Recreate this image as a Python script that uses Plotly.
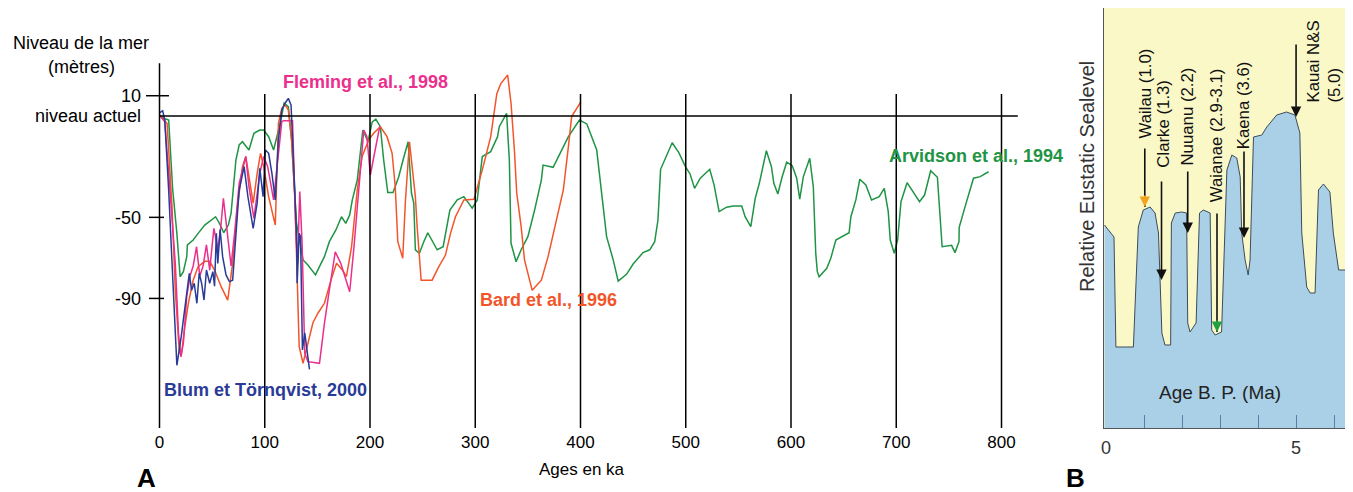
import plotly.graph_objects as go

W, H = 1353, 492
OFF = 8  # page body margin shifts the figure by this many pixels

# ---------------- panel A data (ka, metres) ----------------
blum_ka = [0, 3, 5, 8.7, 12.5, 16.5, 20.6, 24.3, 28.3, 30.5, 33, 35.5, 37.7, 40, 42.3,
           44.6, 47.7, 50.7, 52.3, 54, 55.4, 57.6, 60, 63.2, 66.4, 69.5, 72.6, 75.7, 80.4, 84,
           89, 92.8, 95.3, 98.4, 100.6, 103.7, 106.8, 110, 113, 116.2, 119.3, 122.4, 125, 127,
           130.2, 130.8, 132.7, 134, 135.8, 138, 139.5, 142.5]
blum_m = [1.6, 2.6, -2, -36.5, -79, -123, -109, -94, -77.6, -86, -82.5, -92.4, -77.6, -82.5, -90.8,
          -76, -82.5, -76.8, -84, -57.9, -72.7, -56, -69.4, -78.4, -81.7, -81, -56, -36.5, -25, -39.8,
          -55.4, -43, -25.8, -39.8, -16.8, -18.4, -28.3, -41.4, -11.8, 3, 6.3, 8.7, 5.4, -20,
          -57.9, -82.5, -57.9, -59.5, -115.4, -107, -113.8, -125]

fleming_ka = [0, 5, 8.7, 11.9, 15, 18, 20.3, 22.7, 25.9, 29, 32, 35.2, 38.3, 41.4, 44.6,
              47.7, 51.7, 55.4, 58, 60.7, 63.8, 68, 71.7, 75.7, 82, 85, 89.7, 92.8, 95.3, 99,
              102.8, 108.4, 116.2, 117.8, 126.4, 129.6, 131.1, 133.3, 135.5, 138, 141, 152,
              156.7, 161.4, 167, 172.2, 180.7, 184.8, 189.4, 194.1, 197.1, 200.3, 209.2]
fleming_m = [0.5, -2.8, -28, -53, -72.7, -107, -118.7, -112, -89, -79, -74, -64.5, -79, -74, -63.6,
             -76, -55.4, -66, -56, -40.6, -56, -74, -56, -33.2, -20, -34.9, -50.5, -38, -28.3, -20,
             -25, -41.4, -2.8, -2.3, -2.3, -57.9, -72.7, -37.3, -62.8, -117, -121.2, -122,
             -102.3, -85.8, -67, -72.7, -86.7, -64.5, -36.5, -6.9, -10.2, -29.1, -5.3]

bard_ka = [0, 7.2, 11.9, 15, 18.7, 20.6, 23.6, 27.4, 32, 36.7, 43, 47.7, 52.3, 58.6, 64.8,
           69.5, 74.1, 78.8, 82, 85, 89, 92.8, 96, 99, 103.7, 110, 113, 116.2, 119.3, 122.4,
           125.5, 128.7, 130.8, 132.7, 136.4, 141, 145.8, 150.5, 156.7, 162.9, 168.2, 173.8,
           177.6, 182.5, 187.9, 192.5, 198.8, 203.5, 209.8, 216.2, 221, 224, 226.4, 231.1,
           233.7, 237.5, 240, 243.1, 244.8, 248.6, 259, 265.4, 271.7, 276.5, 281.2, 289.2,
           298.8, 306.7, 314.7, 320.5, 324.3, 330.8, 334, 337.2, 339.4, 343.6, 346.8, 354.1,
           362.8, 369.2, 375.7, 383.7, 388.5, 391.6, 400.3]
bard_m = [0.5, -3.6, -44.7, -86, -115.4, -118.7, -105.6, -92.4, -81, -74.3, -71.7, -71.7, -76, -84.2, -90.8,
          -72.7, -44.7, -25, -20, -30, -43, -28.3, -18.4, -25, -39.8, -53.8, -3.6, 3.8, 5.4, 3,
          -11.8, -41.4, -86, -113.8, -122, -112, -102, -97.3, -92.4, -81, -72.7, -76,
          -79.3, -64.5, -36.5, -20, -11.8, -8.5, -5.3, -10.2, -18.4, -34.9, -62, -70.2,
          -41.4, -12.7, -25, -39.8, -54.6, -81, -81, -74.3, -68.6, -57.9, -49.7, -41.4,
          -41.1, -26.6, -10.2, 11, 16, 20.2, 6.3, -16.8, -38, -54.6, -71, -86,
          -81, -69.4, -54.6, -36.5, -15.1, -0.3, 7]

arvidson_ka = [0, 4, 8.7, 12.5, 16.5, 19.6, 22.7, 25.9, 26.5, 32, 36.7, 43, 53.3, 57, 61,
               65.4, 68, 70.4, 72.6, 75.7, 78.8, 85, 89.7, 95.3, 99, 103.7, 108.4, 114.7, 118.4,
               122.4, 125.5, 130.2, 136.4, 141, 148.2, 152, 156.7, 161.4, 167.6, 172.9, 177,
               180.7, 183.2, 187.9, 193.2, 198.1, 202, 205.5, 209.8, 213, 216.9, 221.9, 227.3,
               231.4, 236.2, 239.4, 241.6, 243.1, 246.9, 251.1, 254.9, 263.8, 269.5, 275.9,
               282.9, 289.2, 297.1, 301.9, 306.7, 314.7, 321.2, 322.8, 329.8, 332.4, 334, 338.8,
               343.6, 350, 356.4, 362.8, 364.4, 374, 380.5, 388.5, 399, 406, 415.4, 420.1,
               424.8, 431.1, 435.8, 443.7, 450, 459.4, 465.8, 470.5, 473.6, 476.1, 481.4, 487.1,
               493.4, 499.7, 504.1, 508.4, 513.8, 522.8, 526.9, 531.7, 538.8, 545.2, 553.2,
               556.4, 561.8, 566, 569.9, 576.6, 581.4, 583.7, 587.5, 591.6, 595.9, 601.2, 605.4,
               608.3, 611.7, 617.8, 621.2, 623.5, 625, 626.7, 634, 637.8, 642.6, 655.2, 656.9,
               661.6, 665.4, 671.1, 676.5, 683.8, 688.6, 692.4, 694.3, 698.1, 701.3, 704.5,
               710.3, 715.7, 722.1, 726.9, 732.7, 739.1, 741.3, 743.6, 752.6, 755.8, 759.6,
               759.8, 765.4, 769.2, 773.4, 779.8, 787.7]
arvidson_m = [0.5, -1.1, -2, -36, -57.9, -79.3, -76.8, -69.4, -63.6, -61.2, -57.9, -53.8, -49.7, -53, -57.6,
              -53.8, -48, -34.9, -21.7, -14.3, -12.7, -16.8, -8.5, -6.9, -6.9, -10.2, -16.8, -3.6, 6.3,
              4.6, -11.8, -53, -71, -73.5, -78.4, -74.3, -69.4, -62, -56.2, -49.7, -53,
              -48.8, -41.4, -31.6, -6.9, -12.7, -3, -1.5, -5.3, -21.7, -37.8, -37.8, -30,
              -21.7, -12.7, -38, -43, -66, -67.7, -62, -57.6, -66, -64.5, -46.4,
              -41.4, -39.8, -45.5, -41.4, -20, -17.6, -10.2, -5.3, 1.3, -21.7, -62.8, -71.9,
              -66, -59.5, -46.4, -31.6, -24.2, -25.3, -18.4, -10.2, -2, -3.9, -16.8, -38,
              -59.5, -71, -81.5, -78.1, -73, -67.4, -66, -62, -51.3, -26.3, -20, -13.2,
              -18.1, -25, -28.6, -35.7, -30.7, -26.3, -34, -47.2, -45, -44.4, -44.4,
              -49.7, -54.6, -40.6, -33.2, -17.1, -25, -33.2, -38.5, -30, -22.8, -24.5, -30.7,
              -41, -30, -20.9, -34.9, -67.7, -76.8, -79.3, -75.1, -70.2, -61.2, -57.6, -49.7,
              -41.4, -31.2, -34, -41.4, -39.8, -35.7, -47.2, -61.2, -67.7, -61.2, -42.3,
              -32.9, -37.3, -42.3, -39, -27, -30.2, -49.7, -64.5, -63.8, -67.4, -62,
              -54.9, -44.7, -38.1, -30.7, -29.9, -27.5]

x_ticks = [0, 100, 200, 300, 400, 500, 600, 700, 800]
y_ticks = [10, 0, -50, -90]
y_ticktext = ["10", "niveau actuel", "-50", "-90"]
grid_ka = [100, 200, 300, 400, 500, 600, 700, 800]

# ---------------- panel B data (Ma, relative level) ----------------
b_age = [-0.04, 0.21, 0.26, 0.72, 0.85, 0.98, 1.16, 1.29, 1.38, 1.47, 1.55, 1.70, 1.72, 1.82,
         1.99, 2.12, 2.15, 2.21, 2.37, 2.46, 2.56, 2.74, 2.78, 2.87, 3.04, 3.13, 3.18, 3.31,
         3.44, 3.53, 3.57, 3.66, 3.74, 3.79, 3.88, 4.10, 4.23, 4.49, 4.75, 4.97, 5.10, 5.15,
         5.28, 5.37, 5.50, 5.59, 5.72, 5.89, 5.98, 6.12, 6.33]
b_level = [203, 191, 81, 81, 201, 218, 221, 215, 195, 95, 83, 83, 205, 215,
           216, 215, 105, 96, 105, 215, 218, 215, 98, 93, 96, 195, 258, 273,
           270, 251, 195, 168, 153, 168, 291, 293, 301, 313, 316, 313, 295, 195,
           141, 135, 135, 238, 244, 236, 195, 158, 158]
b_ticks = [0, 5]
b_minor = [1, 2, 3, 4, 5, 6]

event_names = ["Wailau (1.0)", "Clarke (1.3)", "Nuuanu (2.2)", "Waianae (2.9-3.1)", "Kaena (3.6)"]
event_age = [1.02, 1.46, 2.15, 2.92, 3.63]
event_tip = [221, 148, 195, 96, 190]
kauai_age, kauai_tip = 5.0, 311


def px(x):
    return min(1.0, max(0.0, (x - OFF) / W))


def py(y):
    return min(1.0, max(0.0, 1 - (y - OFF) / H))


# pixel -> data scales of panel A (pixels measured on the target picture)
KA0, KA_PX = 159.5, 1.0525
M0, M_PX = 116.0, 2.027
xa_rng = [(142 - KA0) / KA_PX, (1035 - KA0) / KA_PX]
ya_rng = [(M0 - 428) / M_PX, (M0 - 62) / M_PX]
B_TOP = max(5, OFF)

BLUE, MAG, RED, GREEN = "#2a3b97", "#ea2f8c", "#f2552a", "#1f9445"

fig = go.Figure()
for xs, ys, col in [(arvidson_ka, arvidson_m, GREEN), (bard_ka, bard_m, RED),
                    (fleming_ka, fleming_m, MAG), (blum_ka, blum_m, BLUE)]:
    fig.add_trace(go.Scatter(x=xs, y=ys, mode="lines", line=dict(color=col, width=1.5),
                             xaxis="x", yaxis="y", showlegend=False, hoverinfo="skip"))

fig.add_trace(go.Scatter(x=b_age, y=b_level, mode="lines", fill="tozeroy",
                         fillcolor="#a9d0e6", line=dict(color="#3d4b5a", width=1),
                         xaxis="x2", yaxis="y2", showlegend=False, hoverinfo="skip"))

shapes = []
for g in grid_ka:
    shapes.append(dict(type="line", xref="x", yref="y", x0=g, x1=g, y0=ya_rng[0], y1=10.9,
                       line=dict(color="black", width=1.5)))
shapes.append(dict(type="line", xref="x", yref="y", x0=0, x1=0, y0=ya_rng[0], y1=26,
                   line=dict(color="black", width=1.5)))
shapes.append(dict(type="line", xref="x", yref="y", x0=0, x1=815.5, y0=0, y1=0,
                   line=dict(color="black", width=1.5)))
shapes.append(dict(type="line", xref="x", yref="y", x0=-12.8, x1=9, y0=10, y1=10,
                   line=dict(color="black", width=1.5)))
for t in [-50, -90]:
    shapes.append(dict(type="line", xref="x", yref="y", x0=-10, x1=4.3, y0=t, y1=t,
                       line=dict(color="black", width=1.5)))
shapes.append(dict(type="rect", xref="x2 domain", yref="y2 domain", x0=0, x1=1, y0=0, y1=1,
                   fillcolor="#fbf8c8", line=dict(width=0), layer="below"))

LAB = "Liberation Sans Narrow, Liberation Sans, Arial"
ann = []


def text(x, y, s, size, color="black", bold=False, family="Liberation Sans, Arial", angle=0, **kw):
    if bold:
        s = "<b>" + s + "</b>"
    ann.append(dict(x=px(x), y=py(y), xref="paper", yref="paper", text=s, showarrow=False,
                    xanchor="center", yanchor="middle",
                    font=dict(size=size, color=color, family=family), textangle=angle, **kw))


text(81, 43, "Niveau de la mer", 18)
text(81, 67, "(mètres)", 18)
text(582, 469, "Ages en ka", 17, family=LAB)
text(146, 478, "A", 26, bold=True)
text(1075, 478, "B", 26, bold=True)
text(365, 82, "Fleming et al., 1998", 18, MAG, True, LAB)
text(548, 300, "Bard et al., 1996", 18, RED, True, LAB)
text(976, 156, "Arvidson et al., 1994", 18, GREEN, True, LAB)
text(265, 390, "Blum et Törnqvist, 2000", 18, BLUE, True, LAB)

text(1087, 177, "Relative Eustatic Sealevel", 20, "#333333", angle=-90)
text(1220, 392, "Age B. P. (Ma)", 19, "#222222")

lbl_xy = [(1145, 93.5), (1162.7, 124), (1187, 116.5), (1217.3, 135), (1243.3, 105)]
for name, (lx, ly) in zip(event_names, lbl_xy):
    text(lx, ly, name, 16.8, "#111111", angle=-90)
text(1324, 61.5, "Kauai N&S<br>(5.0)", 16.8, "#111111", angle=-90, align="left")

arrow_len = [60, 100, 63, 120, 88]
head_col = ["#f0a51c", None, None, "#20a040", None]
for a, tip, L, hc in zip(event_age, event_tip, arrow_len, head_col):
    ann.append(dict(x=a, y=tip, xref="x2", yref="y2", text="", showarrow=True, ax=0, ay=-L,
                    arrowhead=2 if hc is None else 0, arrowsize=1.3, arrowwidth=1.6,
                    arrowcolor="#111111"))
    if hc is not None:
        ann.append(dict(x=a, y=tip, xref="x2", yref="y2", text="", showarrow=True, ax=0, ay=-13,
                        arrowhead=2, arrowsize=1.3, arrowwidth=1.6, arrowcolor=hc))
ann.append(dict(x=kauai_age, y=kauai_tip, xref="x2", yref="y2", text="", showarrow=True, ax=0, ay=-74,
                arrowhead=2, arrowsize=1.3, arrowwidth=1.6, arrowcolor="#111111"))

fig.update_layout(
    width=W, height=H, margin=dict(l=0, r=0, t=0, b=0, pad=0), autosize=False,
    paper_bgcolor="white", plot_bgcolor="rgba(0,0,0,0)",
    shapes=shapes, annotations=ann,
    xaxis=dict(domain=[px(142), px(1035)], range=xa_rng, tickvals=x_ticks, automargin=False,
               ticks="", showgrid=False, zeroline=False, showline=False,
               tickfont=dict(size=17, family=LAB, color="black"), ticklabelstandoff=2),
    yaxis=dict(domain=[py(428), py(62)], range=ya_rng, tickvals=y_ticks, ticktext=y_ticktext,
               ticks="", showgrid=False, zeroline=False, showline=False, automargin=False,
               tickfont=dict(size=18, family="Liberation Sans, Arial", color="black"),
               ticklabelstandoff=0),
    xaxis2=dict(domain=[px(1104), px(1347)], range=[-0.053, 6.34], anchor="y2",
                tickvals=b_ticks, ticks="", showgrid=False, zeroline=False, automargin=False,
                showline=True, mirror=True, linecolor="#555555", linewidth=1,
                minor=dict(tickvals=b_minor, ticks="inside", ticklen=13, tickcolor="#5b7ea8",
                           tickwidth=1.2, showgrid=False),
                tickfont=dict(size=18, family="Liberation Sans, Arial", color="#333333"),
                ticklabelstandoff=3),
    yaxis2=dict(domain=[py(428), py(B_TOP)], range=[0, 428 - B_TOP], anchor="x2",
                showticklabels=False, ticks="", showgrid=False, zeroline=False, automargin=False,
                showline=True, mirror=True, linecolor="#555555", linewidth=1),
)

fig.write_html("out.html")
